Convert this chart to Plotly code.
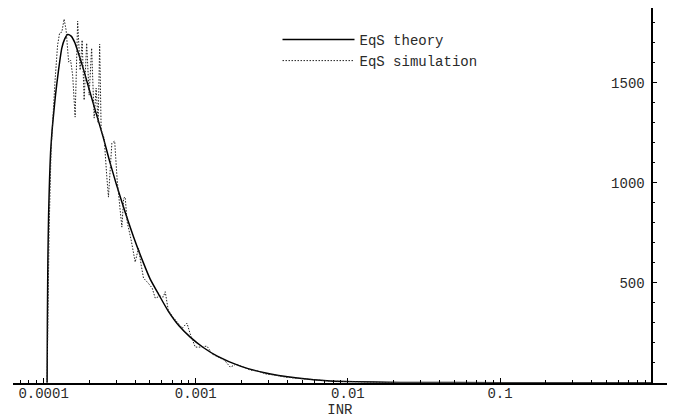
import plotly.graph_objects as go

# ---- data ----
theory_x = [1.0545e-4, 1.0592e-4, 1.0673e-4, 1.0787e-4, 1.0951e-4, 1.1119e-4, 1.1375e-4, 1.1636e-4,
            1.1993e-4, 1.2514e-4, 1.3175e-4, 1.3747e-4, 1.4384e-4, 1.517e-4, 1.599e-4, 1.694e-4,
            1.819e-4, 1.971e-4, 2.183e-4, 2.463e-4, 2.738e-4, 3.270e-4, 3.898e-4, 4.536e-4,
            5.020e-4, 5.692e-4, 6.595e-4, 7.786e-4, 9.201e-4, 1.1203e-3, 1.385e-3, 1.963e-3,
            2.781e-3, 4.654e-3, 7.673e-3, 0.02215, 0.1008, 1.0]
theory_y = [0, 313, 613, 838, 1023, 1153, 1263, 1343,
            1443, 1558, 1673, 1718, 1741, 1733, 1703, 1647,
            1573, 1480, 1363, 1228, 1098, 903, 730, 598,
            518, 443, 358, 283, 228, 176, 133, 83,
            51, 23, 8, 1.5, 0.1, 0]

sim_x = [1.054e-4, 1.087e-4, 1.120e-4, 1.155e-4, 1.190e-4, 1.236e-4, 1.274e-4, 1.318e-4,
         1.364e-4, 1.406e-4, 1.461e-4, 1.505e-4, 1.552e-4, 1.612e-4, 1.674e-4, 1.739e-4,
         1.792e-4, 1.847e-4, 1.919e-4, 1.993e-4, 2.069e-4, 2.149e-4, 2.215e-4, 2.284e-4,
         2.336e-4, 2.390e-4, 2.501e-4, 2.598e-4, 2.669e-4, 2.810e-4, 2.932e-4, 3.045e-4,
         3.162e-4, 3.269e-4, 3.360e-4, 3.437e-4, 3.543e-4, 3.764e-4, 3.999e-4, 4.204e-4,
         4.380e-4, 4.535e-4, 4.870e-4, 5.173e-4, 5.414e-4, 5.841e-4, 6.112e-4, 6.301e-4,
         6.594e-4, 7.005e-4, 7.555e-4, 8.151e-4, 8.753e-4, 9.202e-4, 9.925e-4, 1.071e-3,
         1.185e-3, 1.284e-3, 1.406e-3, 1.540e-3, 1.687e-3, 1.847e-3, 2.054e-3, 2.284e-3,
         2.578e-3, 2.909e-3, 3.335e-3, 3.880e-3, 4.514e-3, 5.253e-3, 6.396e-3, 7.670e-3,
         9.628e-3, 1.209e-2, 2.0e-2]
sim_y = [0, 763, 1163, 1363, 1513, 1688, 1748, 1753,
         1818, 1763, 1603, 1613, 1538, 1328, 1808, 1563,
         1713, 1413, 1698, 1438, 1673, 1323, 1473, 1298,
         1693, 1263, 1223, 1038, 928, 1198, 1208, 1013,
         888, 778, 923, 928, 803, 713, 603, 673,
         588, 523, 498, 473, 423, 433, 428, 455,
         363, 333, 303, 273, 298, 243, 178, 178,
         183, 143, 128, 113, 78, 93, 78, 63,
         58, 43, 38, 28, 23, 18, 13, 8,
         6, 3, 0]

x_tickvals = [1e-4, 1e-3, 1e-2, 1e-1]
x_ticktext = ["0.0001", "0.001", "0.01", "0.1"]
y_tickvals = [500, 1000, 1500]
y_ticktext = ["500", "1000", "1500"]

series_names = ["EqS theory", "EqS simulation"]

# ---- layout geometry (page body has an 8px margin, so compensate) ----
W, H = 685, 417
OFF = 8
x_range = [-4.203, 0.097]          # log10 range
y_range = [0, (382.7 - OFF) / 0.2]
xdom = [(12.7 - OFF) / W, (667 - OFF) / W]
ydom = [(H - (382.7 - OFF)) / H, 1.0]
# y axis crosses the x axis at INR = 1 (log10 = 0)
ypos = xdom[0] + (0 - x_range[0]) / (x_range[1] - x_range[0]) * (xdom[1] - xdom[0])

FONT = "Liberation Mono, Courier New, monospace"
TXT = "#2a2a2a"

fig = go.Figure()
fig.add_trace(go.Scatter(x=theory_x, y=theory_y, mode="lines", name=series_names[0],
                         line=dict(color="black", width=1.5, shape="spline", smoothing=0.6)))
fig.add_trace(go.Scatter(x=sim_x, y=sim_y, mode="lines", name=series_names[1],
                         line=dict(color="#222", width=1, dash="1.5px,1.5px")))

fig.update_layout(
    width=W, height=H,
    margin=dict(l=0, r=0, t=0, b=0),
    paper_bgcolor="white", plot_bgcolor="white",
    font=dict(family=FONT, size=14, color=TXT),
    showlegend=True,
    legend=dict(x=(277.5 - OFF) / W, y=1 - (23.8 - OFF) / H, xanchor="left", yanchor="top",
                bgcolor="rgba(0,0,0,0)", borderwidth=0, itemwidth=72,
                font=dict(family=FONT, size=14, color=TXT), tracegroupgap=0),
    xaxis=dict(type="log", range=x_range, domain=xdom, showgrid=False, zeroline=False,
               showline=True, linecolor="black", linewidth=1.5,
               tickmode="array", tickvals=x_tickvals, ticktext=x_ticktext,
               ticks="inside", ticklen=5, tickwidth=1, tickcolor="black",
               minor=dict(dtick="D1", ticks="inside", ticklen=3, tickcolor="black", showgrid=False),
               tickfont=dict(family=FONT, size=14, color=TXT),
               ticklabelstandoff=-3,
               title=dict(text="INR", font=dict(family=FONT, size=14, color=TXT), standoff=0),
               automargin=False),
    yaxis=dict(range=y_range, domain=ydom, anchor="free", position=ypos, side="left",
               showgrid=False, zeroline=False, showline=True, linecolor="black", linewidth=1.5,
               tickmode="array", tickvals=y_tickvals, ticktext=y_ticktext,
               ticks="inside", ticklen=4, tickwidth=1, tickcolor="black",
               minor=dict(dtick=100, tick0=0, ticks="inside", ticklen=2, tickcolor="black", showgrid=False),
               tickfont=dict(family=FONT, size=14, color=TXT),
               ticklabelstandoff=4, automargin=False),
)

fig.write_html("out.html")
